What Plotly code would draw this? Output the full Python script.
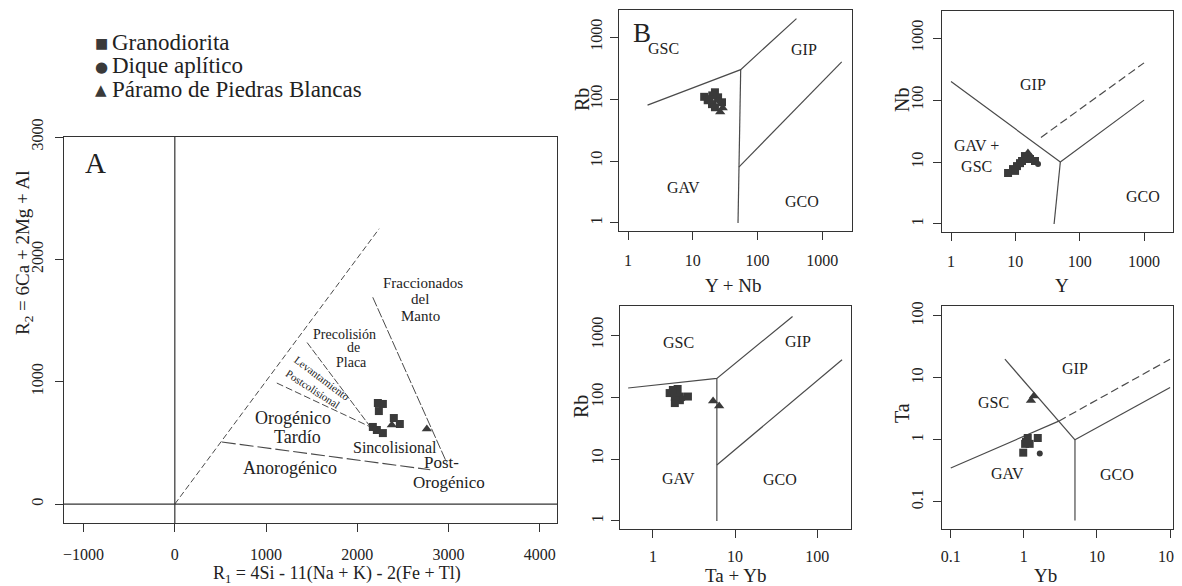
import numpy as np
import plotly.graph_objects as go

FONT = "Liberation Serif, Times New Roman, serif"
INK = "#222222"
LINE = "#4a4a4a"
MARK = "#3a3a3a"

# ---------------- Legend ----------------
legend_names = ["Granodiorita", "Dique aplítico", "Páramo de Piedras Blancas"]
legend_glyphs = ["■", "●", "▲"]

# ---------------- Panel A data (R1, R2) ----------------
A_gran_R1 = [2226, 2281, 2237, 2401, 2467, 2171, 2215, 2281]
A_gran_R2 = [826, 818, 760, 703, 654, 630, 605, 580]
A_dique_R1 = [2195]
A_dique_R2 = [615]
A_param_R1 = [2379, 2763]
A_param_R2 = [646, 613]

# Panel A boundary lines
A_main_R1 = [0, 2240]
A_main_R2 = [0, 2250]
A_fracc_R1 = [2170, 2980]
A_fracc_R2 = [1690, 340]
A_precol_R1 = [1450, 2145]
A_precol_R2 = [1320, 630]
A_levant_R1 = [1118, 2145]
A_levant_R2 = [989, 630]
A_anorog_R1 = [515, 2800]
A_anorog_R2 = [507, 280]

# ---------------- Panel B data (Y+Nb, Rb) ----------------
B_gran_x = [15, 17, 19.8, 22, 22, 24.6, 28.3, 20, 18]
B_gran_y = [109, 96, 83, 74, 129, 107, 89, 115, 100]
B_dique_x = [25]
B_dique_y = [95]
B_param_x = [29, 26.5]
B_param_y = [72, 62]
B_l1_x, B_l1_y = [2, 55, 400], [80, 300, 2000]
B_l2_x, B_l2_y = [55, 51.5, 50], [300, 8, 1]
B_l3_x, B_l3_y = [51.5, 2000], [8, 400]

# ---------------- Panel C data (Y, Nb) ----------------
C_gran_x = [7.7, 9.2, 10.6, 12.7, 14.1, 11.8, 9.9, 16.9, 20.2]
C_gran_y = [6.65, 7.7, 8.6, 10.4, 12.5, 9.6, 7.2, 11.2, 10.4]
C_dique_x = [22.5]
C_dique_y = [9.3]
C_param_x = [15.7, 17.5]
C_param_y = [14, 12]
C_l1_x, C_l1_y = [1, 50, 1000], [200, 10, 100]
C_l2_x, C_l2_y = [50, 40], [10, 1]
C_dash_x, C_dash_y = [25, 1000], [25, 400]

# ---------------- Panel D data (Ta+Yb, Rb) ----------------
D_gran_x = [1.6, 2.0, 1.85, 2.13, 2.67, 1.85, 2.13, 1.75]
D_gran_y = [116, 135, 100, 102, 102, 80, 89, 130]
D_dique_x = [2.3]
D_dique_y = [95]
D_param_x = [5.4, 6.4]
D_param_y = [86, 72]
D_l1_x, D_l1_y = [0.5, 6, 50], [140, 200, 2000]
D_l2_x, D_l2_y = [6, 6, 6], [200, 8, 1]
D_l3_x, D_l3_y = [6, 200], [8, 400]

# ---------------- Panel E data (Yb, Ta) ----------------
E_gran_x = [1.07, 1.13, 1.55, 1.2, 0.98, 1.04]
E_gran_y = [0.93, 1.07, 1.07, 0.86, 0.62, 0.86]
E_dique_x = [1.65]
E_dique_y = [0.6]
E_param_x = [1.37, 1.25]
E_param_y = [5.1, 4.3]
E_l1_x, E_l1_y = [0.55, 3, 5], [20, 2, 1]
E_l2_x, E_l2_y = [0.1, 3], [0.35, 2]
E_dash_x, E_dash_y = [3, 100], [2, 20]
E_l3_x, E_l3_y = [5, 100], [1, 7]
E_l4_x, E_l4_y = [5, 5], [1, 0.05]

fig = go.Figure()


def add_line(x, y, ax, dash="solid", width=1.2):
    fig.add_trace(go.Scatter(x=x, y=y, mode="lines", xaxis="x" + ax, yaxis="y" + ax,
                             line=dict(color=LINE, width=width, dash=dash),
                             showlegend=False, hoverinfo="skip"))


def add_points(gx, gy, dx, dy, px_, py_, ax):
    specs = [(legend_names[0], gx, gy, "square", 8),
             (legend_names[1], dx, dy, "circle", 6),
             (legend_names[2], px_, py_, "triangle-up", 9)]
    for name, x, y, sym, size in specs:
        fig.add_trace(go.Scatter(x=x, y=y, mode="markers", name=name, legendgroup=name,
                                 xaxis="x" + ax, yaxis="y" + ax, showlegend=False,
                                 marker=dict(symbol=sym, size=size, color=MARK)))


# Panel A lines
add_line(A_main_R1, A_main_R2, "", dash="6px,3px", width=1.0)
add_line(A_fracc_R1, A_fracc_R2, "", dash="10px,2px", width=1.0)
add_line(A_precol_R1, A_precol_R2, "", dash="7px,2px", width=1.0)
add_line(A_levant_R1, A_levant_R2, "", dash="7px,3px", width=1.0)
add_line(A_anorog_R1, A_anorog_R2, "", dash="14px,4px", width=1.1)
add_points(A_gran_R1, A_gran_R2, A_dique_R1, A_dique_R2, A_param_R1, A_param_R2, "")

# Panel B
for lx, ly in [(B_l1_x, B_l1_y), (B_l2_x, B_l2_y), (B_l3_x, B_l3_y)]:
    add_line(lx, ly, "2")
add_points(B_gran_x, B_gran_y, B_dique_x, B_dique_y, B_param_x, B_param_y, "2")

# Panel C
for lx, ly in [(C_l1_x, C_l1_y), (C_l2_x, C_l2_y)]:
    add_line(lx, ly, "3")
add_line(C_dash_x, C_dash_y, "3", dash="8px,4px")
add_points(C_gran_x, C_gran_y, C_dique_x, C_dique_y, C_param_x, C_param_y, "3")

# Panel D
for lx, ly in [(D_l1_x, D_l1_y), (D_l2_x, D_l2_y), (D_l3_x, D_l3_y)]:
    add_line(lx, ly, "4")
add_points(D_gran_x, D_gran_y, D_dique_x, D_dique_y, D_param_x, D_param_y, "4")

# Panel E
for lx, ly in [(E_l1_x, E_l1_y), (E_l2_x, E_l2_y), (E_l3_x, E_l3_y), (E_l4_x, E_l4_y)]:
    add_line(lx, ly, "5")
add_line(E_dash_x, E_dash_y, "5", dash="8px,4px")
add_points(E_gran_x, E_gran_y, E_dique_x, E_dique_y, E_param_x, E_param_y, "5")

# The page body keeps its default 8px margin, so the figure is drawn 8px in.
OFF = 8
W, H = 1182 - OFF, 586 - OFF


def px(v):
    return (v - OFF) / W


def py(v):
    return 1 - (v - OFF) / H


common = dict(showline=True, linecolor="#333333", linewidth=1.3, mirror=True,
              ticks="outside", ticklen=8, tickwidth=1.2, tickcolor="#333333",
              showgrid=False, zeroline=False, automargin=False,
              ticklabeloverflow="allow",
              tickfont=dict(family=FONT, size=16, color=INK))
xcommon = dict(common, ticklabelstandoff=7)
ycommon = dict(common, tickangle=-90, ticklabelstandoff=1)
logticks = dict(type="log", tickmode="array")

A_xticks = [-1000, 0, 1000, 2000, 3000, 4000]
A_yticks = [0, 1000, 2000, 3000]
dec_vals = [0.1, 1, 10, 100, 1000]
dec_text = ["0.1", "1", "10", "100", "1000"]

layout = dict(
    width=W, height=H, margin=dict(l=0, r=0, t=0, b=0, autoexpand=False),
    paper_bgcolor="white", plot_bgcolor="white",
    font=dict(family=FONT, color=INK),
    showlegend=False,
    xaxis=dict(xcommon, domain=[px(64), px(557)], range=[-1215, 4190],
               tickvals=A_xticks, anchor="y", ticklabelstandoff=9),
    yaxis=dict(ycommon, domain=[py(523), py(137)], range=[-155, 3000],
               tickvals=A_yticks, anchor="x", ticklabelstandoff=5),
    xaxis2=dict(xcommon, **logticks, domain=[px(619), px(852)], range=[-0.14, 3.46],
                tickvals=dec_vals[1:], ticktext=dec_text[1:], anchor="y2"),
    yaxis2=dict(ycommon, **logticks, domain=[py(231), py(10)], range=[-0.13, 3.44],
                tickvals=dec_vals[1:], ticktext=dec_text[1:], anchor="x2"),
    xaxis3=dict(xcommon, **logticks, domain=[px(942), px(1173)], range=[-0.14, 3.45],
                tickvals=dec_vals[1:], ticktext=dec_text[1:], anchor="y3"),
    yaxis3=dict(ycommon, **logticks, domain=[py(232), py(11)], range=[-0.13, 3.44],
                tickvals=dec_vals[1:], ticktext=dec_text[1:], anchor="x3",
                ticklabelstandoff=3),
    xaxis4=dict(xcommon, **logticks, domain=[px(620), px(851)], range=[-0.40, 2.41],
                tickvals=dec_vals[1:4], ticktext=dec_text[1:4], anchor="y4",
                ticklabelstandoff=5),
    yaxis4=dict(ycommon, **logticks, domain=[py(529), py(306)], range=[-0.13, 3.47],
                tickvals=dec_vals[1:], ticktext=dec_text[1:], anchor="x4"),
    xaxis5=dict(xcommon, **logticks, domain=[px(942), px(1173)], range=[-1.12, 2.04],
                tickvals=dec_vals[:4], ticktext=dec_text[:4], anchor="y5",
                ticklabelstandoff=5),
    yaxis5=dict(ycommon, **logticks, domain=[py(529), py(306)], range=[-1.44, 2.16],
                tickvals=dec_vals[:4], ticktext=dec_text[:4], anchor="x5",
                ticklabelstandoff=3),
)
fig.update_layout(**layout)

# Axis lines R1=0 and R2=0 in panel A
fig.add_shape(type="line", xref="x", yref="y domain", x0=0, x1=0, y0=0, y1=1,
              line=dict(color="#333333", width=1.2))
fig.add_shape(type="line", xref="x domain", yref="y", x0=0, x1=1, y0=0, y1=0,
              line=dict(color="#333333", width=1.2))

ann = []


def note(text, x, y, ax="", size=16, angle=0, log=False):
    if log:
        x, y = np.log10(x), np.log10(y)
    ann.append(dict(text=text, x=x, y=y, xref="x" + ax, yref="y" + ax, showarrow=False,
                    font=dict(family=FONT, size=size, color=INK), textangle=angle,
                    xanchor="center", yanchor="middle", borderpad=0))


def paper_note(text, x, y, size=18, angle=0, xanchor="center", family=FONT, color=INK):
    ann.append(dict(text=text, x=px(x), y=py(y), xref="paper", yref="paper", showarrow=False,
                    font=dict(family=family, size=size, color=color), textangle=angle,
                    xanchor=xanchor, yanchor="middle"))


# Legend (top left)
legend_rows = [42, 65.7, 89.3]
glyph_sizes = [14, 15, 15]
for g, name, yrow, gs in zip(legend_glyphs, legend_names, legend_rows, glyph_sizes):
    paper_note(g, 101, yrow + 1, size=gs, family="DejaVu Sans", color=MARK)
    paper_note(name, 110, yrow, size=23, xanchor="left")

# Panel A labels
note("A", -866, 2788, size=29)
note("Fraccionados", 2719, 1805, size=15)
note("del", 2686, 1676, size=15)
note("Manto", 2697, 1537, size=15)
note("Precolisión", 1864, 1385, size=14)
note("de", 1963, 1276, size=14)
note("Placa", 1941, 1158, size=14)
note("Levantamiento", 1612, 1030, size=11, angle=37)
note("Postcolisional", 1513, 940, size=11, angle=33)
note("Orogénico", 1294, 700, size=18)
note("Tardío", 1349, 545, size=18)
note("Sincolisional", 2412, 466, size=16)
note("Anorogénico", 1261, 294, size=18)
note("Post-", 2928, 340, size=17)
note("Orogénico", 3004, 180, size=17)

# Panel B labels
note("B", 1.65, 1160, "2", size=27, log=True)
note("GSC", 3.5, 665, "2", log=True)
note("GIP", 525, 645, "2", log=True)
note("GAV", 7.1, 3.8, "2", log=True)
note("GCO", 490, 2.2, "2", log=True)

# Panel C labels
note("GIP", 18.8, 181, "3", log=True)
note("GAV +<br>GSC", 2.5, 12.5, "3", log=True)
note("GCO", 975, 2.8, "3", log=True)

# Panel D labels
note("GSC", 2.07, 770, "4", log=True)
note("GIP", 59, 800, "4", log=True)
note("GAV", 2.07, 4.9, "4", log=True)
note("GCO", 35, 4.7, "4", log=True)

# Panel E labels
note("GIP", 5.0, 14, "5", log=True)
note("GSC", 0.39, 4.0, "5", log=True)
note("GAV", 0.6, 0.29, "5", log=True)
note("GCO", 19, 0.28, "5", log=True)

# Axis titles
paper_note("R<sub>1</sub> = 4Si - 11(Na + K) - 2(Fe + Tl)", 337, 574, size=18)
paper_note("R<sub>2</sub> = 6Ca + 2Mg + Al", 24, 253, size=19, angle=-90)
paper_note("Rb", 582, 100, size=20, angle=-90)
paper_note("Y + Nb", 733, 285, size=19)
paper_note("Nb", 902, 100, size=20, angle=-90)
paper_note("Y", 1062, 285, size=19)
paper_note("Rb", 581, 407, size=20, angle=-90)
paper_note("Ta + Yb", 735, 575, size=19)
paper_note("Ta", 902, 413, size=20, angle=-90)
paper_note("Yb", 1045, 575, size=19)

fig.update_layout(annotations=ann)
fig.write_html("out.html")
